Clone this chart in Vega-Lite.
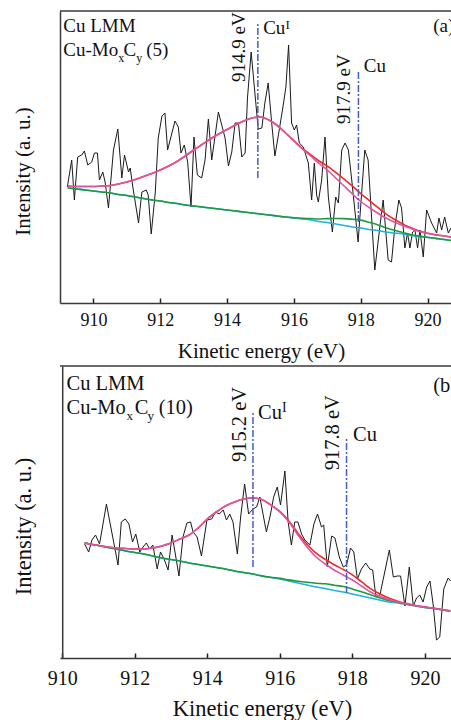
{
  "$schema": "https://vega.github.io/schema/vega-lite/v6.json",
  "padding": {"left": 12, "top": 10, "right": 0, "bottom": 0},
  "spacing": 63,
  "bounds": "flush",
  "config": {
    "view": {"stroke": null},
    "font": "Liberation Serif",
    "axis": {"labelFont": "Liberation Serif", "titleFont": "Liberation Serif", "titleFontWeight": "normal", "labelColor": "#111111", "titleColor": "#111111", "grid": false, "domainColor": "#3a3a3a", "domainWidth": 1.5, "tickColor": "#222222", "tickWidth": 1.5, "labelFlush": false, "labelOverlap": false},
    "text": {"font": "Liberation Serif", "color": "#111111"}
  },
  "datasets": {
    "a_raw": [
      {"e":909.22,"v":116},{"e":909.35,"v":143},{"e":909.43,"v":103},{"e":909.53,"v":146},{"e":909.65,"v":148},{"e":909.73,"v":152},{"e":909.83,"v":138},{"e":909.95,"v":141},{"e":910.03,"v":150},{"e":910.12,"v":150},{"e":910.18,"v":123},{"e":910.28,"v":131},{"e":910.35,"v":121},{"e":910.45,"v":95},{"e":910.6,"v":153},{"e":910.73,"v":174},{"e":910.85,"v":125},{"e":910.93,"v":148},{"e":911.05,"v":131},{"e":911.1,"v":135},{"e":911.18,"v":116},{"e":911.35,"v":80},{"e":911.45,"v":111},{"e":911.58,"v":113},{"e":911.64,"v":108},{"e":911.73,"v":69},{"e":911.85,"v":110},{"e":911.94,"v":165},{"e":912.05,"v":187},{"e":912.14,"v":190},{"e":912.22,"v":153},{"e":912.44,"v":182},{"e":912.54,"v":176},{"e":912.62,"v":150},{"e":912.72,"v":158},{"e":912.82,"v":141},{"e":912.92,"v":96},{"e":913.01,"v":166},{"e":913.11,"v":128},{"e":913.24,"v":125},{"e":913.34,"v":143},{"e":913.44,"v":184},{"e":913.54,"v":143},{"e":913.74,"v":191},{"e":913.84,"v":178},{"e":913.94,"v":165},{"e":914.04,"v":137},{"e":914.14,"v":151},{"e":914.24,"v":180},{"e":914.34,"v":180},{"e":914.44,"v":146},{"e":914.54,"v":150},{"e":914.61,"v":205},{"e":914.72,"v":251},{"e":914.93,"v":174},{"e":915.04,"v":175},{"e":915.13,"v":200},{"e":915.23,"v":220},{"e":915.34,"v":178},{"e":915.43,"v":147},{"e":915.56,"v":173},{"e":915.68,"v":198},{"e":915.76,"v":216},{"e":915.84,"v":258},{"e":915.93,"v":180},{"e":916.01,"v":173},{"e":916.08,"v":178},{"e":916.16,"v":160},{"e":916.28,"v":156},{"e":916.43,"v":140},{"e":916.53,"v":103},{"e":916.61,"v":140},{"e":916.68,"v":108},{"e":916.73,"v":101},{"e":916.83,"v":123},{"e":916.93,"v":166},{"e":917.03,"v":106},{"e":917.15,"v":71},{"e":917.25,"v":106},{"e":917.33,"v":100},{"e":917.43,"v":153},{"e":917.53,"v":160},{"e":917.63,"v":153},{"e":917.73,"v":123},{"e":917.92,"v":61},{"e":918.12,"v":153},{"e":918.22,"v":143},{"e":918.42,"v":33},{"e":918.57,"v":76},{"e":918.67,"v":103},{"e":918.82,"v":43},{"e":918.92,"v":41},{"e":919.02,"v":76},{"e":919.14,"v":103},{"e":919.22,"v":95},{"e":919.32,"v":55},{"e":919.4,"v":70},{"e":919.47,"v":55},{"e":919.55,"v":71},{"e":919.62,"v":73},{"e":919.7,"v":55},{"e":919.77,"v":73},{"e":919.87,"v":46},{"e":919.97,"v":93},{"e":920.12,"v":80},{"e":920.27,"v":70},{"e":920.34,"v":85},{"e":920.42,"v":73},{"e":920.51,"v":86},{"e":920.62,"v":70},{"e":920.7,"v":75}
    ],
    "a_fit": [
      {"e":909.23,"bg":115,"cu":115,"cui":117,"tot":117},{"e":909.5,"bg":114,"cu":114,"cui":116.5,"tot":116.5},{"e":909.75,"bg":113,"cu":113,"cui":116.5,"tot":116.5},{"e":910,"bg":112,"cu":112,"cui":116.5,"tot":116.5},{"e":910.25,"bg":111,"cu":111,"cui":117,"tot":117},{"e":910.5,"bg":110,"cu":110,"cui":117.5,"tot":117.5},{"e":910.75,"bg":108.5,"cu":108.5,"cui":119,"tot":119},{"e":911,"bg":107.5,"cu":107.5,"cui":121,"tot":121},{"e":911.25,"bg":106,"cu":106,"cui":123.5,"tot":123.5},{"e":911.5,"bg":104.5,"cu":104.5,"cui":126.5,"tot":126.5},{"e":911.75,"bg":103,"cu":103,"cui":129.5,"tot":129.5},{"e":912,"bg":102,"cu":102,"cui":133,"tot":133},{"e":912.25,"bg":100.5,"cu":100.5,"cui":137,"tot":137},{"e":912.5,"bg":99.5,"cu":99.5,"cui":141.5,"tot":141.5},{"e":912.75,"bg":98,"cu":98,"cui":147,"tot":147},{"e":913,"bg":97,"cu":97,"cui":153,"tot":153},{"e":913.25,"bg":96,"cu":96,"cui":158.5,"tot":158.5},{"e":913.5,"bg":95,"cu":95,"cui":164,"tot":164},{"e":913.75,"bg":94,"cu":94,"cui":169,"tot":169},{"e":914,"bg":93,"cu":93,"cui":173.5,"tot":173.5},{"e":914.25,"bg":92,"cu":92,"cui":178,"tot":178},{"e":914.5,"bg":91,"cu":91,"cui":182,"tot":182},{"e":914.75,"bg":90,"cu":90,"cui":185,"tot":185},{"e":915,"bg":89,"cu":89,"cui":186,"tot":186},{"e":915.25,"bg":88,"cu":88,"cui":183,"tot":183},{"e":915.5,"bg":87,"cu":87,"cui":177.5,"tot":177.5},{"e":915.75,"bg":86,"cu":86,"cui":170,"tot":170},{"e":916,"bg":85,"cu":85.3,"cui":162,"tot":162.3},{"e":916.25,"bg":84,"cu":84.7,"cui":154,"tot":154.7},{"e":916.5,"bg":83,"cu":84.4,"cui":147,"tot":148.4},{"e":916.75,"bg":81.5,"cu":84,"cui":139.5,"tot":142},{"e":917,"bg":80.5,"cu":84.4,"cui":133,"tot":136.9},{"e":917.25,"bg":79,"cu":84.5,"cui":125,"tot":130.5},{"e":917.5,"bg":77.5,"cu":84.4,"cui":117,"tot":123.9},{"e":917.75,"bg":76,"cu":83.8,"cui":109,"tot":116.8},{"e":918,"bg":75,"cu":82.9,"cui":101.5,"tot":109.4},{"e":918.25,"bg":73.5,"cu":80.7,"cui":95.5,"tot":102.7},{"e":918.5,"bg":72.5,"cu":78.3,"cui":90,"tot":95.8},{"e":918.75,"bg":71,"cu":75.2,"cui":85,"tot":89.2},{"e":919,"bg":70,"cu":72.7,"cui":81,"tot":83.7},{"e":919.25,"bg":69,"cu":70.6,"cui":77.5,"tot":79.1},{"e":919.5,"bg":67.5,"cu":68.3,"cui":74.5,"tot":75.3},{"e":919.75,"bg":66.5,"cu":66.9,"cui":71.5,"tot":71.9},{"e":920,"bg":65.5,"cu":65.7,"cui":69.5,"tot":69.7},{"e":920.25,"bg":64.5,"cu":64.6,"cui":68,"tot":68.1},{"e":920.5,"bg":63.5,"cu":63.5,"cui":67,"tot":67},{"e":920.7,"bg":62.5,"cu":62.5,"cui":66,"tot":66}
    ],
    "b_raw": [
      {"e":910.62,"v":114},{"e":910.73,"v":106},{"e":910.82,"v":118},{"e":910.92,"v":123},{"e":911.03,"v":114},{"e":911.22,"v":154},{"e":911.54,"v":93},{"e":911.63,"v":136},{"e":911.74,"v":139},{"e":911.84,"v":134},{"e":911.94,"v":116},{"e":912.03,"v":124},{"e":912.14,"v":106},{"e":912.23,"v":111},{"e":912.32,"v":115},{"e":912.41,"v":109},{"e":912.5,"v":113},{"e":912.62,"v":89},{"e":912.71,"v":106},{"e":912.81,"v":99},{"e":912.92,"v":88},{"e":913.03,"v":123},{"e":913.12,"v":104},{"e":913.22,"v":82},{"e":913.33,"v":121},{"e":913.44,"v":135},{"e":913.54,"v":136},{"e":913.61,"v":126},{"e":913.72,"v":121},{"e":913.84,"v":102},{"e":913.99,"v":138},{"e":914.12,"v":139},{"e":914.23,"v":146},{"e":914.33,"v":144},{"e":914.44,"v":148},{"e":914.53,"v":138},{"e":914.62,"v":144},{"e":914.71,"v":136},{"e":914.83,"v":104},{"e":914.92,"v":141},{"e":915.03,"v":174},{"e":915.14,"v":144},{"e":915.26,"v":149},{"e":915.36,"v":151},{"e":915.45,"v":161},{"e":915.63,"v":126},{"e":915.74,"v":143},{"e":915.83,"v":161},{"e":915.93,"v":171},{"e":916.02,"v":153},{"e":916.14,"v":187},{"e":916.23,"v":136},{"e":916.32,"v":113},{"e":916.41,"v":136},{"e":916.5,"v":136},{"e":916.6,"v":124},{"e":916.69,"v":118},{"e":916.83,"v":113},{"e":916.94,"v":134},{"e":917.04,"v":144},{"e":917.15,"v":131},{"e":917.21,"v":133},{"e":917.31,"v":91},{"e":917.43,"v":122},{"e":917.52,"v":120},{"e":917.64,"v":101},{"e":917.75,"v":91},{"e":917.84,"v":93},{"e":917.95,"v":110},{"e":918.04,"v":106},{"e":918.14,"v":79},{"e":918.25,"v":89},{"e":918.37,"v":95},{"e":918.48,"v":89},{"e":918.56,"v":88},{"e":918.65,"v":61},{"e":918.76,"v":63},{"e":919.02,"v":108},{"e":919.13,"v":81},{"e":919.24,"v":82},{"e":919.33,"v":82},{"e":919.45,"v":52},{"e":919.57,"v":91},{"e":919.68,"v":52},{"e":919.77,"v":60},{"e":919.86,"v":63},{"e":919.95,"v":56},{"e":920.05,"v":71},{"e":920.14,"v":77},{"e":920.23,"v":53},{"e":920.32,"v":18},{"e":920.41,"v":21},{"e":920.52,"v":69},{"e":920.64,"v":80},{"e":920.71,"v":77}
    ],
    "b_fit": [
      {"e":910.62,"bg":115,"cu":115,"cui":115,"tot":115},{"e":910.75,"bg":114,"cu":114,"cui":114,"tot":114},{"e":911,"bg":112.5,"cu":112.5,"cui":112.5,"tot":112.5},{"e":911.25,"bg":110.5,"cu":110.5,"cui":111,"tot":111},{"e":911.5,"bg":109,"cu":109,"cui":110,"tot":110},{"e":911.75,"bg":107,"cu":107,"cui":109.5,"tot":109.5},{"e":912,"bg":105.5,"cu":105.5,"cui":109,"tot":109},{"e":912.25,"bg":104,"cu":104,"cui":109,"tot":109},{"e":912.5,"bg":102,"cu":102,"cui":110,"tot":110},{"e":912.75,"bg":100,"cu":100,"cui":112,"tot":112},{"e":913,"bg":98.5,"cu":98.5,"cui":115,"tot":115},{"e":913.25,"bg":97,"cu":97,"cui":119,"tot":119},{"e":913.5,"bg":95,"cu":95,"cui":123,"tot":123},{"e":913.75,"bg":93.5,"cu":93.5,"cui":130,"tot":130},{"e":914,"bg":92,"cu":92,"cui":139,"tot":139},{"e":914.25,"bg":90.5,"cu":90.5,"cui":146,"tot":146},{"e":914.5,"bg":89,"cu":89,"cui":152,"tot":152},{"e":914.75,"bg":87,"cu":87,"cui":156,"tot":156},{"e":915,"bg":85.5,"cu":85.5,"cui":159,"tot":159},{"e":915.25,"bg":84,"cu":84,"cui":160,"tot":160},{"e":915.5,"bg":82,"cu":82.1,"cui":158.5,"tot":158.6},{"e":915.75,"bg":80.5,"cu":80.7,"cui":153,"tot":153.2},{"e":916,"bg":79,"cu":79.6,"cui":146,"tot":146.6},{"e":916.25,"bg":77,"cu":78.1,"cui":136,"tot":137.1},{"e":916.5,"bg":75,"cu":76.8,"cui":123,"tot":124.8},{"e":916.75,"bg":73,"cu":75.7,"cui":111,"tot":113.7},{"e":917,"bg":71,"cu":74.8,"cui":101,"tot":104.8},{"e":917.25,"bg":69.5,"cu":74.2,"cui":94,"tot":98.7},{"e":917.5,"bg":67.5,"cu":72.8,"cui":88,"tot":93.3},{"e":917.75,"bg":66,"cu":71.5,"cui":83,"tot":88.5},{"e":918,"bg":64,"cu":69.1,"cui":78,"tot":83.1},{"e":918.25,"bg":62,"cu":66.3,"cui":72,"tot":76.3},{"e":918.5,"bg":60,"cu":63.3,"cui":66,"tot":69.3},{"e":918.75,"bg":58,"cu":60.3,"cui":62,"tot":64.3},{"e":919,"bg":56,"cu":57.5,"cui":58.5,"tot":60},{"e":919.25,"bg":55,"cu":55.8,"cui":56,"tot":56.8},{"e":919.5,"bg":53.5,"cu":53.9,"cui":54,"tot":54.4},{"e":919.75,"bg":52,"cu":52.2,"cui":52.3,"tot":52.5},{"e":920,"bg":50.5,"cu":50.6,"cui":51,"tot":51.1},{"e":920.25,"bg":49.5,"cu":49.5,"cui":49.7,"tot":49.7},{"e":920.5,"bg":48,"cu":48,"cui":48.2,"tot":48.2},{"e":920.7,"bg":47,"cu":47,"cui":47.2,"tot":47.2}
    ]
  },
  "vconcat": [
    {
      "width": 391,
      "height": 292,
      "layer": [
        {
          "data": {"name": "a_raw"},
          "mark": {"type": "line", "color": "#1a1a1a", "strokeWidth": 1, "clip": true},
          "encoding": {
            "x": {"field": "e", "type": "quantitative", "scale": {"domain": [909, 920.7], "nice": false, "zero": false},
              "axis": {"title": "Kinetic energy (eV)", "values": [910,911,912,913,914,915,916,917,918,919,920], "labelExpr": "datum.value % 2 === 0 ? datum.label : ''", "labelFont": "Liberation Serif", "titleFont": "Liberation Serif", "labelFontSize": 18, "titleFontSize": 21, "ticks": true, "tickSize": {"condition": {"test": "datum.value % 2 !== 0", "value": -3}, "value": -5}, "labelPadding": 13, "titleX": 201, "titleY": 37, "titleBaseline": "top"}},
            "y": {"field": "v", "type": "quantitative", "scale": {"domain": [0, 292], "nice": false, "zero": false},
              "axis": {"title": "Intensity (a. u.)", "titleFont": "Liberation Serif", "titleFontSize": 21, "labels": false, "ticks": false, "titleX": -37, "titleY": 160, "titleBaseline": "middle"}}
          }
        },
        {"data": {"name": "a_fit"}, "mark": {"type": "line", "color": "#1fb2d8", "strokeWidth": 1.6, "interpolate": "monotone", "clip": true},
          "encoding": {"x": {"field": "e", "type": "quantitative"}, "y": {"field": "bg", "type": "quantitative"}}},
        {"data": {"name": "a_fit"}, "mark": {"type": "line", "color": "#1e9a3e", "strokeWidth": 1.6, "interpolate": "monotone", "clip": true},
          "encoding": {"x": {"field": "e", "type": "quantitative"}, "y": {"field": "cu", "type": "quantitative"}}},
        {"data": {"name": "a_fit"}, "mark": {"type": "line", "color": "#ee2a2a", "strokeWidth": 1.6, "interpolate": "monotone", "clip": true},
          "encoding": {"x": {"field": "e", "type": "quantitative"}, "y": {"field": "tot", "type": "quantitative"}}},
        {"data": {"name": "a_fit"}, "mark": {"type": "line", "color": "#dd55a8", "strokeWidth": 1.6, "interpolate": "monotone", "clip": true},
          "encoding": {"x": {"field": "e", "type": "quantitative"}, "y": {"field": "cui", "type": "quantitative"}}},
        {"data": {"values": [{"e": 914.92, "lo": 125, "hi": 279}, {"e": 917.93, "lo": 81, "hi": 232}]},
          "mark": {"type": "rule", "color": "#4a5cc8", "strokeWidth": 1.5, "strokeDash": [7, 2, 2, 2]},
          "encoding": {"x": {"field": "e", "type": "quantitative"}, "y": {"field": "lo", "type": "quantitative"}, "y2": {"field": "hi"}}},
        {"data": {"values": [{}]}, "mark": {"type": "rule", "color": "#3a3a3a", "strokeWidth": 1.5},
          "encoding": {"y": {"datum": 292, "type": "quantitative"}}},
        {"data": {"values": [{"e": 909.1, "v": 271, "t": "Cu LMM"}, {"e": 909.1, "v": 247, "t": "Cu-Mo"}, {"e": 910.9, "v": 247, "t": "C"}, {"e": 911.58, "v": 247, "t": "(5)"}, {"e": 915.08, "v": 268.7, "t": "Cu"}, {"e": 918.09, "v": 231.3, "t": "Cu"}, {"e": 920.17, "v": 270.7, "t": "(a)"}]},
          "mark": {"type": "text", "align": "left", "baseline": "alphabetic", "fontSize": 19, "clip": true},
          "encoding": {"x": {"field": "e", "type": "quantitative"}, "y": {"field": "v", "type": "quantitative"}, "text": {"field": "t"}}},
        {"data": {"values": [{"e": 910.74, "v": 241, "t": "x"}, {"e": 911.28, "v": 241, "t": "y"}]},
          "mark": {"type": "text", "align": "left", "baseline": "alphabetic", "fontSize": 12, "clip": true},
          "encoding": {"x": {"field": "e", "type": "quantitative"}, "y": {"field": "v", "type": "quantitative"}, "text": {"field": "t"}}},
        {"data": {"values": [{"e": 915.75, "v": 274, "t": "I"}]},
          "mark": {"type": "text", "align": "left", "baseline": "alphabetic", "fontSize": 13, "clip": true},
          "encoding": {"x": {"field": "e", "type": "quantitative"}, "y": {"field": "v", "type": "quantitative"}, "text": {"field": "t"}}},
        {"data": {"values": [{"e": 914.37, "v": 221, "t": "914.9 eV"}, {"e": 917.51, "v": 179, "t": "917.9 eV"}]},
          "mark": {"type": "text", "align": "left", "baseline": "middle", "angle": 270, "fontSize": 19, "clip": true},
          "encoding": {"x": {"field": "e", "type": "quantitative"}, "y": {"field": "v", "type": "quantitative"}, "text": {"field": "t"}}}
      ]
    },
    {
      "width": 391,
      "height": 292,
      "layer": [
        {
          "data": {"name": "b_raw"},
          "mark": {"type": "line", "color": "#1a1a1a", "strokeWidth": 1, "clip": true},
          "encoding": {
            "x": {"field": "e", "type": "quantitative", "scale": {"domain": [909.94, 920.72], "nice": false, "zero": false},
              "axis": {"title": "Kinetic energy (eV)", "values": [910,911,912,913,914,915,916,917,918,919,920], "labelExpr": "datum.value % 2 === 0 ? datum.label : ''", "labelFont": "Liberation Serif", "titleFont": "Liberation Serif", "labelFontSize": 20, "titleFontSize": 22.5, "ticks": true, "tickSize": {"condition": {"test": "datum.value % 2 !== 0", "value": -3}, "value": -5}, "labelPadding": 15, "titleX": 202, "titleY": 39, "titleBaseline": "top"}},
            "y": {"field": "v", "type": "quantitative", "scale": {"domain": [0, 292], "nice": false, "zero": false},
              "axis": {"title": "Intensity (a. u.)", "titleFont": "Liberation Serif", "titleFontSize": 22.5, "labels": false, "ticks": false, "offset": -2.2, "titleX": -39, "titleY": 160, "titleBaseline": "middle"}}
          }
        },
        {"data": {"name": "b_fit"}, "mark": {"type": "line", "color": "#1fb2d8", "strokeWidth": 1.6, "interpolate": "monotone", "clip": true},
          "encoding": {"x": {"field": "e", "type": "quantitative"}, "y": {"field": "bg", "type": "quantitative"}}},
        {"data": {"name": "b_fit"}, "mark": {"type": "line", "color": "#1e9a3e", "strokeWidth": 1.6, "interpolate": "monotone", "clip": true},
          "encoding": {"x": {"field": "e", "type": "quantitative"}, "y": {"field": "cu", "type": "quantitative"}}},
        {"data": {"name": "b_fit"}, "mark": {"type": "line", "color": "#ee2a2a", "strokeWidth": 1.6, "interpolate": "monotone", "clip": true},
          "encoding": {"x": {"field": "e", "type": "quantitative"}, "y": {"field": "tot", "type": "quantitative"}}},
        {"data": {"name": "b_fit"}, "mark": {"type": "line", "color": "#dd55a8", "strokeWidth": 1.6, "interpolate": "monotone", "clip": true},
          "encoding": {"x": {"field": "e", "type": "quantitative"}, "y": {"field": "cui", "type": "quantitative"}}},
        {"data": {"values": [{"e": 915.26, "lo": 91, "hi": 247}, {"e": 917.84, "lo": 65, "hi": 221}]},
          "mark": {"type": "rule", "color": "#4a5cc8", "strokeWidth": 1.5, "strokeDash": [7, 2, 2, 2]},
          "encoding": {"x": {"field": "e", "type": "quantitative"}, "y": {"field": "lo", "type": "quantitative"}, "y2": {"field": "hi"}}},
        {"data": {"values": [{}]}, "mark": {"type": "rule", "color": "#3a3a3a", "strokeWidth": 1.5},
          "encoding": {"y": {"datum": 292, "type": "quantitative"}}},
        {"data": {"values": [{"e": 910.12, "v": 268, "t": "Cu LMM"}, {"e": 910.12, "v": 244, "t": "Cu-Mo"}, {"e": 912.0, "v": 244, "t": "C"}, {"e": 912.66, "v": 244, "t": "(10)"}, {"e": 915.4, "v": 239.4, "t": "Cu"}, {"e": 918.02, "v": 217, "t": "Cu"}, {"e": 920.23, "v": 266, "t": "(b)"}]},
          "mark": {"type": "text", "align": "left", "baseline": "alphabetic", "fontSize": 20.5, "clip": true},
          "encoding": {"x": {"field": "e", "type": "quantitative"}, "y": {"field": "v", "type": "quantitative"}, "text": {"field": "t"}}},
        {"data": {"values": [{"e": 911.77, "v": 238, "t": "x"}, {"e": 912.35, "v": 238, "t": "y"}]},
          "mark": {"type": "text", "align": "left", "baseline": "alphabetic", "fontSize": 13, "clip": true},
          "encoding": {"x": {"field": "e", "type": "quantitative"}, "y": {"field": "v", "type": "quantitative"}, "text": {"field": "t"}}},
        {"data": {"values": [{"e": 916.06, "v": 246, "t": "I"}]},
          "mark": {"type": "text", "align": "left", "baseline": "alphabetic", "fontSize": 14, "clip": true},
          "encoding": {"x": {"field": "e", "type": "quantitative"}, "y": {"field": "v", "type": "quantitative"}, "text": {"field": "t"}}},
        {"data": {"values": [{"e": 914.9, "v": 196, "t": "915.2 eV"}, {"e": 917.47, "v": 187.7, "t": "917.8 eV"}]},
          "mark": {"type": "text", "align": "left", "baseline": "middle", "angle": 270, "fontSize": 20.5, "clip": true},
          "encoding": {"x": {"field": "e", "type": "quantitative"}, "y": {"field": "v", "type": "quantitative"}, "text": {"field": "t"}}}
      ]
    }
  ]
}
